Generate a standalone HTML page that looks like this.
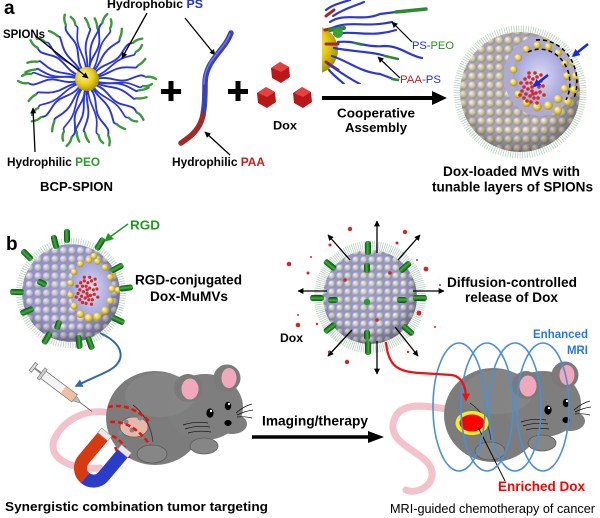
<!DOCTYPE html>
<html><head><meta charset="utf-8">
<style>
html,body{margin:0;padding:0;background:#fff;overflow:hidden;}
svg{display:block;}
text{font-family:"Liberation Sans",Arial,sans-serif;}
.b{font-weight:bold;}
</style></head><body>
<svg width="600" height="518" viewBox="0 0 600 518" xmlns="http://www.w3.org/2000/svg" xmlns:xlink="http://www.w3.org/1999/xlink">
<defs>
  <radialGradient id="beadA" cx="0.45" cy="0.45" r="0.6" fx="0.32" fy="0.3">
    <stop offset="0" stop-color="#fbf8ec"/><stop offset="0.55" stop-color="#cdc3a8"/><stop offset="1" stop-color="#8c846e"/>
  </radialGradient>
  <radialGradient id="beadB" cx="0.45" cy="0.45" r="0.6" fx="0.32" fy="0.3">
    <stop offset="0" stop-color="#f6f4fa"/><stop offset="0.55" stop-color="#c6c2d2"/><stop offset="1" stop-color="#84809a"/>
  </radialGradient>
  <radialGradient id="beadC" cx="0.45" cy="0.45" r="0.6" fx="0.32" fy="0.3">
    <stop offset="0" stop-color="#f8f8f8"/><stop offset="0.55" stop-color="#c6c6c8"/><stop offset="1" stop-color="#7e7e86"/>
  </radialGradient>
  <radialGradient id="beadY" cx="0.45" cy="0.45" r="0.6" fx="0.32" fy="0.3">
    <stop offset="0" stop-color="#fffbd0"/><stop offset="0.55" stop-color="#e6cc48"/><stop offset="1" stop-color="#9c8414"/>
  </radialGradient>
  <radialGradient id="yel" cx="0.45" cy="0.45" r="0.6" fx="0.35" fy="0.3">
    <stop offset="0" stop-color="#fff8a0"/><stop offset="0.6" stop-color="#e8cc18"/><stop offset="1" stop-color="#a08800"/>
  </radialGradient>
  <pattern id="pA" width="9" height="9" patternUnits="userSpaceOnUse">
    <rect width="9" height="9" fill="#a8a4c4"/><circle cx="4.5" cy="4.5" r="4.3" fill="url(#beadA)"/>
  </pattern>
  <pattern id="pB" width="8.5" height="8.5" patternUnits="userSpaceOnUse">
    <rect width="8.5" height="8.5" fill="#9494d4"/><circle cx="4.25" cy="4.25" r="4" fill="url(#beadB)"/>
  </pattern>
  <pattern id="pC" width="8" height="8" patternUnits="userSpaceOnUse">
    <rect width="8" height="8" fill="#9898d8"/><circle cx="4" cy="4" r="3.8" fill="url(#beadC)"/>
  </pattern>
  <radialGradient id="shade" cx="0.45" cy="0.42" r="0.58">
    <stop offset="0" stop-color="#fff" stop-opacity="0.15"/>
    <stop offset="0.7" stop-color="#000" stop-opacity="0"/>
    <stop offset="1" stop-color="#000" stop-opacity="0.3"/>
  </radialGradient>
  <radialGradient id="inner" cx="0.5" cy="0.5" r="0.5">
    <stop offset="0" stop-color="#dcdcf2"/><stop offset="1" stop-color="#a0a0dc"/>
  </radialGradient>
  <linearGradient id="cyl" x1="0" x2="1" y1="0" y2="0">
    <stop offset="0" stop-color="#0e5a0e"/><stop offset="0.45" stop-color="#3cb03c"/><stop offset="1" stop-color="#0c4a0c"/>
  </linearGradient>
  <marker id="ah" viewBox="0 0 10 10" refX="9" refY="5" markerWidth="6" markerHeight="6" orient="auto" markerUnits="userSpaceOnUse">
    <path d="M0,0 L10,5 L0,10 z" fill="#000"/>
  </marker>
  <marker id="ahB" viewBox="0 0 10 10" refX="8" refY="5" markerWidth="8" markerHeight="8" orient="auto" markerUnits="userSpaceOnUse">
    <path d="M0,0 L10,5 L0,10 z" fill="#2f6aa6"/>
  </marker>
  <marker id="ahR" viewBox="0 0 10 10" refX="8" refY="5" markerWidth="8" markerHeight="8" orient="auto" markerUnits="userSpaceOnUse">
    <path d="M0,0 L10,5 L0,10 z" fill="#f01010"/>
  </marker>
  <marker id="ahU" viewBox="0 0 10 10" refX="8" refY="5" markerWidth="8" markerHeight="8" orient="auto" markerUnits="userSpaceOnUse">
    <path d="M0,0 L10,5 L0,10 z" fill="#1a28d8"/>
  </marker>

  <g id="armA" fill="none" stroke-linecap="round">
    <path d="M97,79 C110,75 118,84 130,79 S142,75 146,77" stroke="#2c36d6" stroke-width="1.9"/>
    <path d="M146,77 Q151,76 156,79" stroke="#3c9a3c" stroke-width="2.4"/>
    <path d="M97,82 C108,86 120,80 131,84 S139,88 143,86" stroke="#2c36d6" stroke-width="1.7"/>
    <path d="M143,86 Q148,87 152,84" stroke="#3c9a3c" stroke-width="2.4"/>
  </g>
  <g id="armB" fill="none" stroke-linecap="round">
    <path d="M97,80 C108,82 116,76 128,80 S136,84 140,82" stroke="#2c36d6" stroke-width="1.9"/>
    <path d="M140,82 Q145,81 149,78" stroke="#3c9a3c" stroke-width="2.4"/>
  </g>

  <g id="dots" fill="#d42a2a">
    <circle cx="-7" cy="-7" r="1.8"/><circle cx="-3" cy="-9" r="1.8"/><circle cx="1" cy="-7" r="1.8"/><circle cx="5" cy="-9" r="1.8"/>
    <circle cx="9" cy="-5" r="1.8"/><circle cx="-5" cy="-3" r="1.8"/><circle cx="-1" cy="-3" r="1.8"/><circle cx="3" cy="-1" r="1.8"/>
    <circle cx="7" cy="1" r="1.8"/><circle cx="-8" cy="1" r="1.8"/><circle cx="-4" cy="3" r="1.8"/><circle cx="0" cy="5" r="1.8"/>
    <circle cx="4" cy="7" r="1.8"/><circle cx="8" cy="6" r="1.8"/><circle cx="-6" cy="8" r="1.8"/><circle cx="-2" cy="10" r="1.8"/>
    <circle cx="2" cy="12" r="1.8"/><circle cx="-10" cy="5" r="1.8"/><circle cx="6" cy="12" r="1.8"/><circle cx="11" cy="0" r="1.8"/>
    <circle cx="-11" cy="-3" r="1.8"/><circle cx="-3" cy="-13" r="1.8"/><circle cx="3" cy="-13" r="1.8"/><circle cx="-8" cy="12" r="1.8"/>
    <circle cx="-1" cy="16" r="1.8"/><circle cx="-5" cy="15" r="1.8"/><circle cx="5" cy="17" r="1.8"/><circle cx="12" cy="9" r="1.8"/>
    <circle cx="-12" cy="9" r="1.8"/><circle cx="0" cy="1" r="1.8"/><circle cx="1" cy="8" r="1.8"/><circle cx="9" cy="-11" r="1.8"/>
  </g>

  <g id="mouse">
    <ellipse cx="155" cy="418" rx="49" ry="47" fill="#7c7c7c"/>
    <ellipse cx="205" cy="407" rx="38" ry="33" fill="#7e7e7e"/>
    <ellipse cx="232" cy="424" rx="15" ry="10" fill="#7e7e7e"/>
    <ellipse cx="160" cy="395" rx="35" ry="22" fill="#8c8c8c" opacity="0.5"/>
    <circle cx="188" cy="388" r="14" fill="#7a7a7a"/>
    <ellipse cx="190" cy="389" rx="8.5" ry="10.5" fill="#f2a8bc"/>
    <circle cx="227" cy="378" r="13.5" fill="#7a7a7a"/>
    <ellipse cx="229" cy="378" rx="7.5" ry="10" fill="#f2a8bc"/>
    <ellipse cx="152" cy="454" rx="15" ry="9" fill="#868686" stroke="#5c5c5c" stroke-width="0.8"/>
    <ellipse cx="204" cy="446" rx="14" ry="8" fill="#868686" stroke="#5c5c5c" stroke-width="0.8"/>
    <ellipse cx="210" cy="413" rx="3.6" ry="4.6" fill="#000"/>
    <circle cx="211" cy="411" r="1.2" fill="#fff"/>
    <ellipse cx="228" cy="406" rx="3.2" ry="4.2" fill="#000"/>
    <circle cx="229" cy="404" r="1.1" fill="#fff"/>
    <ellipse cx="228" cy="423" rx="3.6" ry="3" fill="#000"/>
    <g stroke="#111" stroke-width="0.7" fill="none">
      <path d="M236,413 Q244,406 252,404"/><path d="M237,415 Q245,411 253,410"/><path d="M237,417 Q245,416 252,418"/>
      <path d="M183,425 Q195,421 208,423"/><path d="M185,429 Q197,425 210,427"/><path d="M188,433 Q199,430 211,432"/>
    </g>
  </g>
</defs>

<!-- ================= PANEL a ================= -->
<text x="4" y="14" class="b" font-size="19">a</text>

<use href="#armA" transform="rotate(0 87 80)"/>
<use href="#armB" transform="rotate(18 87 80)"/>
<use href="#armA" transform="rotate(36 87 80)"/>
<use href="#armB" transform="rotate(54 87 80)"/>
<use href="#armA" transform="rotate(72 87 80)"/>
<use href="#armB" transform="rotate(90 87 80)"/>
<use href="#armA" transform="rotate(108 87 80)"/>
<use href="#armB" transform="rotate(126 87 80)"/>
<use href="#armA" transform="rotate(144 87 80)"/>
<use href="#armB" transform="rotate(162 87 80)"/>
<use href="#armA" transform="rotate(180 87 80)"/>
<use href="#armB" transform="rotate(198 87 80)"/>
<use href="#armA" transform="rotate(216 87 80)"/>
<use href="#armB" transform="rotate(234 87 80)"/>
<use href="#armA" transform="rotate(252 87 80)"/>
<use href="#armB" transform="rotate(270 87 80)"/>
<use href="#armA" transform="rotate(288 87 80)"/>
<use href="#armB" transform="rotate(306 87 80)"/>
<use href="#armA" transform="rotate(324 87 80)"/>
<use href="#armB" transform="rotate(342 87 80)"/>
<use href="#armB" transform="rotate(9 87 80)"/>
<use href="#armB" transform="rotate(99 87 80)"/>
<use href="#armB" transform="rotate(189 87 80)"/>
<use href="#armB" transform="rotate(279 87 80)"/>
<circle cx="87" cy="79" r="12" fill="url(#yel)"/>

<text x="107" y="8" class="b" font-size="11.5" textLength="96" lengthAdjust="spacingAndGlyphs">Hydrophobic <tspan fill="#2030d0">PS</tspan></text>
<text x="3" y="38" class="b" font-size="11.5" textLength="42" lengthAdjust="spacingAndGlyphs">SPIONs</text>
<text x="7" y="166" class="b" font-size="11.5" textLength="93" lengthAdjust="spacingAndGlyphs">Hydrophilic <tspan fill="#2a9a2a">PEO</tspan></text>
<text x="40" y="191" class="b" font-size="13" textLength="73" lengthAdjust="spacingAndGlyphs">BCP-SPION</text>
<text x="172" y="166" class="b" font-size="11.5" textLength="93" lengthAdjust="spacingAndGlyphs">Hydrophilic <tspan fill="#c02020">PAA</tspan></text>
<g stroke="#000" stroke-width="1.3" fill="none">
  <line x1="37" y1="37" x2="88" y2="78" marker-end="url(#ah)"/>
  <line x1="147" y1="13" x2="122" y2="58" marker-end="url(#ah)"/>
  <line x1="185" y1="18" x2="215" y2="55" marker-end="url(#ah)"/>
  <line x1="35" y1="152" x2="33" y2="108" marker-end="url(#ah)"/>
  <line x1="230" y1="155" x2="205" y2="132" marker-end="url(#ah)"/>
</g>

<g fill="#000">
  <rect x="161" y="89" width="20" height="5"/><rect x="168.5" y="81" width="5" height="20"/>
  <rect x="228" y="89" width="20" height="5"/><rect x="235.5" y="81" width="5" height="20"/>
</g>

<path d="M231,33 C224,52 205,60 205,84 S204,106 203,115" fill="none" stroke="#3a42b6" stroke-width="5.5" stroke-linecap="round"/>
<path d="M230,34 C223,52 204,60 204,84" fill="none" stroke="#7078e0" stroke-width="1.5" stroke-linecap="round"/>
<path d="M203,115 C200,130 190,137 181,143" fill="none" stroke="#a42828" stroke-width="5.5" stroke-linecap="round"/>

<g>
  <polygon points="280,62 289,67 290,77 281,83 272,78 271,68" fill="#b81818"/>
  <polygon points="280,62 289,67 281,72 272,68" fill="#e84040"/>
  <polygon points="266,87 275,92 276,102 267,108 258,103 257,93" fill="#b81818"/>
  <polygon points="266,87 275,92 267,97 258,93" fill="#e84040"/>
  <polygon points="302,87 311,92 312,102 303,108 294,103 293,93" fill="#b81818"/>
  <polygon points="302,87 311,92 303,97 294,93" fill="#e84040"/>
</g>
<text x="273" y="129.5" class="b" font-size="11.5" textLength="24" lengthAdjust="spacingAndGlyphs">Dox</text>

<clipPath id="ic"><rect x="322" y="0" width="110" height="84"/></clipPath>
<g clip-path="url(#ic)">
  <circle cx="314" cy="50" r="24" fill="url(#yel)"/>
  <g fill="none" stroke-linecap="round" stroke-width="2.2">
    <path d="M326,16 L334,10" stroke="#a02a2a" stroke-width="3"/>
    <path d="M326,44 L338,44" stroke="#a02a2a" stroke-width="3"/>
    <path d="M326,62 L338,70" stroke="#a02a2a" stroke-width="3"/>
    <path d="M325,30 L334,28" stroke="#a02a2a" stroke-width="3"/>
    <path d="M330,22 C345,12 362,22 380,14 L396,12" stroke="#2c36d6"/>
    <path d="M332,28 C350,20 365,28 392,22" stroke="#2c36d6"/>
    <path d="M334,34 C355,30 370,38 396,30" stroke="#2c36d6"/>
    <path d="M338,42 C355,40 365,48 385,46 C400,46 410,56 422,58" stroke="#2c36d6"/>
    <path d="M334,48 C355,52 375,52 385,56" stroke="#2c36d6"/>
    <path d="M332,56 C350,62 360,72 380,74 L396,80" stroke="#2c36d6"/>
    <path d="M328,64 C340,72 348,78 360,84" stroke="#2c36d6"/>
    <path d="M329,70 C334,76 340,80 344,84" stroke="#2c36d6"/>
    <path d="M326,10 C332,5 340,3 350,0" stroke="#2c36d6"/>
    <path d="M333,16 C345,8 355,6 364,2" stroke="#2c36d6"/>
    <path d="M396,12 L426,9" stroke="#2e8a2e" stroke-width="3.5"/>
    <path d="M385,56 L398,59" stroke="#2e8a2e" stroke-width="2.5"/>
    <path d="M354,43 L362,45" stroke="#2e8a2e" stroke-width="2"/>
    <path d="M392,79 L398,80" stroke="#2e8a2e" stroke-width="2.5"/>
    <path d="M330,30 L344,28" stroke="#2e8a2e" stroke-width="4"/>
  </g>
  <circle cx="338" cy="33" r="5" fill="#3aa03a"/>
</g>
<g stroke="#000" stroke-width="1.2" fill="none">
  <line x1="412" y1="42" x2="392" y2="22" marker-end="url(#ah)"/>
  <line x1="400" y1="78" x2="378" y2="57" marker-end="url(#ah)"/>
</g>
<text x="412" y="49" font-size="11" textLength="42" lengthAdjust="spacingAndGlyphs"><tspan fill="#2030d0">PS-</tspan><tspan fill="#2a8a2a">PEO</tspan></text>
<text x="400" y="83" font-size="11" textLength="41" lengthAdjust="spacingAndGlyphs"><tspan fill="#c02020">PAA</tspan><tspan fill="#2030d0">-PS</tspan></text>

<line x1="322" y1="98" x2="434" y2="98" stroke="#000" stroke-width="4"/>
<polygon points="432,91 447,98 432,105" fill="#000"/>
<text x="337" y="117.5" class="b" font-size="13" textLength="78" lengthAdjust="spacingAndGlyphs">Cooperative</text>
<text x="345" y="132" class="b" font-size="13" textLength="62" lengthAdjust="spacingAndGlyphs">Assembly</text>

<circle cx="520" cy="92" r="63" fill="none" stroke="#5f9a6a" stroke-width="7" stroke-opacity="0.45" stroke-dasharray="0.8 1.6"/>
<clipPath id="cA"><circle cx="520" cy="92" r="60"/></clipPath>
<g clip-path="url(#cA)">
  <circle cx="520" cy="92" r="60" fill="url(#pA)"/>
  <circle cx="520" cy="92" r="60" fill="url(#shade)"/>
  <ellipse cx="540" cy="76" rx="36" ry="40" fill="#aeaad0"/>
  <ellipse cx="540" cy="76" rx="27" ry="31" fill="url(#inner)"/>
  <g fill="url(#beadY)">
    <circle cx="546.3" cy="36.6" r="4.2"/><circle cx="558" cy="41.4" r="4.2"/><circle cx="567.6" cy="50.3" r="4.2"/>
    <circle cx="573.8" cy="62.3" r="4.2"/><circle cx="576" cy="76" r="4.2"/><circle cx="573.8" cy="89.7" r="4.2"/>
    <circle cx="567.6" cy="101.7" r="4.2"/><circle cx="558" cy="110.6" r="4.2"/>
    <circle cx="567" cy="76" r="4"/><circle cx="564.7" cy="88.6" r="4"/><circle cx="558.1" cy="99" r="4.3"/>
    <circle cx="548.3" cy="105.5" r="4.5"/><circle cx="537.2" cy="106.8" r="4.5"/><circle cx="526.5" cy="102.8" r="4.3"/>
    <circle cx="518.2" cy="94.2" r="4"/><circle cx="513.6" cy="82.4" r="3.8"/><circle cx="513.6" cy="69.6" r="3.8"/>
    <circle cx="518.2" cy="57.8" r="3.8"/><circle cx="526.5" cy="49.2" r="3.8"/><circle cx="537.2" cy="45.2" r="3.8"/>
    <circle cx="548.3" cy="46.5" r="3.8"/><circle cx="558.1" cy="53" r="3.8"/><circle cx="564.7" cy="63.4" r="3.8"/>
  </g>
  <use href="#dots" transform="translate(532,86)"/>
</g>
<path d="M536,40 A38,42 0 0 1 574,98" fill="none" stroke="#000" stroke-width="1.5" stroke-dasharray="4 3"/>
<path d="M528,52 A30,34 0 0 1 566,100" fill="none" stroke="#000" stroke-width="1.5" stroke-dasharray="4 3"/>
<line x1="588" y1="44" x2="573" y2="56" stroke="#1a28d8" stroke-width="2.5" marker-end="url(#ahU)"/>
<line x1="548" y1="75" x2="534" y2="86" stroke="#1a28d8" stroke-width="2.5" marker-end="url(#ahU)"/>
<text x="443" y="176" class="b" font-size="13.5" textLength="137" lengthAdjust="spacingAndGlyphs">Dox-loaded MVs with</text>
<text x="432" y="191.5" class="b" font-size="13.5" textLength="161" lengthAdjust="spacingAndGlyphs">tunable layers of SPIONs</text>

<!-- ================= PANEL b ================= -->
<text x="6" y="250" class="b" font-size="19">b</text>

<circle cx="71" cy="293" r="52" fill="none" stroke="#5f9a6a" stroke-width="6" stroke-opacity="0.45" stroke-dasharray="0.8 1.6"/>
<clipPath id="cB"><circle cx="71" cy="293" r="49"/></clipPath>
<g clip-path="url(#cB)">
  <circle cx="71" cy="293" r="49" fill="url(#pB)"/>
  <circle cx="71" cy="293" r="49" fill="url(#shade)"/>
  <ellipse cx="91" cy="289" rx="21" ry="30" fill="url(#inner)"/>
  <g fill="url(#beadY)">
    <circle cx="112" cy="289" r="3.6"/><circle cx="110.2" cy="300.8" r="3.6"/><circle cx="105.1" cy="310.5" r="4"/>
    <circle cx="97.5" cy="316.6" r="4.2"/><circle cx="88.8" cy="317.9" r="4.2"/><circle cx="80.5" cy="314.1" r="4"/>
    <circle cx="74" cy="306" r="3.6"/><circle cx="70.5" cy="295" r="3.3"/><circle cx="70.5" cy="283" r="3.3"/>
    <circle cx="74" cy="272" r="3.3"/><circle cx="80.5" cy="263.9" r="3.4"/><circle cx="88.8" cy="260.1" r="3.4"/>
    <circle cx="97.5" cy="261.4" r="3.4"/><circle cx="105.1" cy="267.5" r="3.4"/><circle cx="110.2" cy="277.2" r="3.4"/>
    <circle cx="94" cy="256" r="3.3"/><circle cx="114" cy="272" r="3.3"/><circle cx="118" cy="290" r="3.3"/>
  </g>
  <use href="#dots" transform="translate(87,289) scale(0.9)"/>
</g>
<g fill="url(#cyl)">
  <rect x="-3" y="-7" width="6" height="14" rx="2.5" transform="translate(67,236) rotate(0)"/>
  <rect x="-3" y="-7" width="6" height="14" rx="2.5" transform="translate(100,244) rotate(32)"/>
  <rect x="-3" y="-7" width="6" height="14" rx="2.5" transform="translate(117,268) rotate(62)"/>
  <rect x="-3" y="-7" width="6" height="14" rx="2.5" transform="translate(126,288) rotate(83)"/>
  <rect x="-3" y="-7" width="6" height="14" rx="2.5" transform="translate(118,320) rotate(115)"/>
  <rect x="-3" y="-7" width="6" height="14" rx="2.5" transform="translate(90,343) rotate(160)"/>
  <rect x="-3" y="-7" width="6" height="14" rx="2.5" transform="translate(79,342) rotate(175)"/>
  <rect x="-3" y="-7" width="6" height="14" rx="2.5" transform="translate(47,338) rotate(210)"/>
  <rect x="-3" y="-7" width="6" height="14" rx="2.5" transform="translate(27,311) rotate(-113)"/>
  <rect x="-3" y="-7" width="6" height="14" rx="2.5" transform="translate(17,292) rotate(-88)"/>
  <rect x="-3" y="-7" width="6" height="14" rx="2.5" transform="translate(27,255) rotate(-45)"/>
  <rect x="-3" y="-7" width="6" height="14" rx="2.5" transform="translate(55,242) rotate(-15)"/>
  <rect x="-3" y="-5" width="6" height="10" rx="2.5" transform="translate(42,283) rotate(-65)"/>
  <rect x="-3" y="-5" width="6" height="10" rx="2.5" transform="translate(58,325) rotate(-160)"/>
</g>
<line x1="128" y1="224" x2="110" y2="237" stroke="#1f9a1f" stroke-width="1.5"/>
<polygon points="104,242 108,233 114,239" fill="#1f9a1f"/>
<text x="130" y="229.5" class="b" font-size="12.5" fill="#1f9a1f" textLength="30" lengthAdjust="spacingAndGlyphs">RGD</text>
<text x="135" y="284.5" class="b" font-size="13.5" textLength="107" lengthAdjust="spacingAndGlyphs">RGD-conjugated</text>
<text x="150" y="301" class="b" font-size="13.5" textLength="78" lengthAdjust="spacingAndGlyphs">Dox-MuMVs</text>

<circle cx="370" cy="297" r="51" fill="none" stroke="#3f7a52" stroke-width="10" stroke-opacity="0.4" stroke-dasharray="0.7 1.3"/>
<clipPath id="cC"><circle cx="370" cy="297" r="47"/></clipPath>
<g clip-path="url(#cC)">
  <circle cx="370" cy="297" r="47" fill="url(#pC)"/>
  <circle cx="370" cy="297" r="47" fill="url(#shade)"/>
</g>
<g stroke="#000" stroke-width="1.3" fill="none">
  <line x1="377" y1="253" x2="377" y2="221" marker-end="url(#ah)"/>
  <line x1="377" y1="341" x2="377" y2="374" marker-end="url(#ah)"/>
  <line x1="327" y1="291" x2="298" y2="291" marker-end="url(#ah)"/>
  <line x1="413" y1="291" x2="444" y2="291" marker-end="url(#ah)"/>
  <line x1="350" y1="260" x2="328" y2="235" marker-end="url(#ah)"/>
  <line x1="398" y1="260" x2="420" y2="235" marker-end="url(#ah)"/>
  <line x1="352" y1="330" x2="328" y2="356" marker-end="url(#ah)"/>
  <line x1="395" y1="327" x2="418" y2="356" marker-end="url(#ah)"/>
</g>
<g fill="url(#cyl)">
  <rect x="-3" y="-7" width="6" height="14" rx="2.5" transform="translate(368,248) rotate(0)"/>
  <rect x="-3" y="-7" width="6" height="14" rx="2.5" transform="translate(330,265) rotate(-51)"/>
  <rect x="-3" y="-7" width="6" height="14" rx="2.5" transform="translate(405,267) rotate(49)"/>
  <rect x="-3" y="-7" width="6" height="14" rx="2.5" transform="translate(317,298) rotate(-90)"/>
  <rect x="-3" y="-7" width="6" height="14" rx="2.5" transform="translate(420,298) rotate(90)"/>
  <rect x="-3" y="-7" width="6" height="14" rx="2.5" transform="translate(330,328) rotate(-128)"/>
  <rect x="-3" y="-7" width="6" height="14" rx="2.5" transform="translate(408,330) rotate(131)"/>
  <rect x="-3" y="-7" width="6" height="14" rx="2.5" transform="translate(368,348) rotate(180)"/>
  <rect x="-3" y="-5" width="6" height="10" rx="2.5" transform="translate(367,268) rotate(0)"/>
  <rect x="-3" y="-5" width="6" height="10" rx="2.5" transform="translate(333,300) rotate(-90)"/>
  <rect x="-3" y="-5" width="6" height="10" rx="2.5" transform="translate(402,300) rotate(90)"/>
  <rect x="-3" y="-5" width="6" height="10" rx="2.5" transform="translate(367,335) rotate(180)"/>
</g>
<circle cx="367" cy="302" r="3.2" fill="#2a9a2a"/>
<g fill="#d42424">
  <circle cx="350" cy="229" r="2.2"/><circle cx="405" cy="232" r="2.2"/><circle cx="330" cy="245" r="1.5"/>
  <circle cx="397" cy="243" r="1.5"/><circle cx="289" cy="264" r="2.3"/><circle cx="308" cy="273" r="1.5"/>
  <circle cx="426" cy="269" r="2.4"/><circle cx="311" cy="257" r="1"/><circle cx="417" cy="260" r="1"/>
  <circle cx="440" cy="285" r="1"/><circle cx="419" cy="313" r="2.4"/><circle cx="298" cy="325" r="2.3"/>
  <circle cx="317" cy="324" r="1.2"/><circle cx="435" cy="327" r="1"/><circle cx="347" cy="362" r="2.2"/>
  <circle cx="329" cy="352" r="1.2"/><circle cx="408" cy="352" r="1.2"/><circle cx="298" cy="315" r="1"/>
  <circle cx="390" cy="273" r="1.8"/><circle cx="377" cy="320" r="1.8"/><circle cx="345" cy="280" r="1.8"/>
</g>
<text x="280" y="342" class="b" font-size="11.5" textLength="23" lengthAdjust="spacingAndGlyphs">Dox</text>
<text x="447" y="287" class="b" font-size="13.5" textLength="130" lengthAdjust="spacingAndGlyphs">Diffusion-controlled</text>
<text x="465" y="302" class="b" font-size="13.5" textLength="93" lengthAdjust="spacingAndGlyphs">release of Dox</text>

<path d="M100,333 C126,345 126,362 108,371 C98,376 88,380 76,386" fill="none" stroke="#2f6aa6" stroke-width="2" marker-end="url(#ahB)"/>

<path d="M110,413 C88,408 64,418 54,440 C48,458 70,470 100,468" fill="none" stroke="#f4c2cc" stroke-width="7" stroke-linecap="round"/>

<use href="#mouse"/>
<path d="M133,405 Q150,418 153,442" fill="none" stroke="#333" stroke-width="0.8"/>
<ellipse cx="134" cy="427" rx="14" ry="10" fill="#e6b8a6" stroke="#555" stroke-width="0.6"/>
<g fill="#7a8a96"><circle cx="126" cy="422" r="2.5"/><circle cx="140" cy="418" r="2.5"/><circle cx="132" cy="430" r="2.5"/><circle cx="120" cy="433" r="2"/></g>
<g fill="none" stroke="#f01010" stroke-width="2.6" stroke-dasharray="5 3">
  <path d="M108,407 Q130,402 150,422"/>
  <path d="M110,422 Q132,420 150,445"/>
  <path d="M112,436 Q124,440 130,460"/>
  <path d="M115,447 Q118,452 120,460"/>
</g>

<g transform="translate(33,367) rotate(37)">
  <line x1="0" y1="0" x2="10" y2="0" stroke="#888" stroke-width="2"/>
  <rect x="-1" y="-5" width="3" height="10" fill="#ddd" stroke="#777" stroke-width="0.7"/>
  <rect x="12" y="-4.5" width="40" height="9" fill="#f4f4f4" stroke="#777" stroke-width="0.8"/>
  <rect x="38" y="-4" width="14" height="8" fill="#f0c0a0"/>
  <rect x="10" y="-6.5" width="3" height="13" fill="#ccc" stroke="#777" stroke-width="0.6"/>
  <polygon points="52,-3 58,-1 58,1 52,3" fill="#bbb" stroke="#777" stroke-width="0.5"/>
  <line x1="58" y1="0" x2="74" y2="0" stroke="#555" stroke-width="0.8"/>
</g>

<g transform="translate(96,465) rotate(40)">
  <path d="M-13,-26 L-13,4 A13,13 0 0 0 0,17" fill="none" stroke="#d63a10" stroke-width="13"/>
  <path d="M0,17 A13,13 0 0 0 13,4 L13,-26" fill="none" stroke="#2a3cc8" stroke-width="13"/>
  <rect x="-19.5" y="-32" width="13" height="6" fill="#e8e8e8" stroke="#999" stroke-width="0.6"/>
  <rect x="6.5" y="-32" width="13" height="6" fill="#e8e8e8" stroke="#999" stroke-width="0.6"/>
</g>

<line x1="252" y1="437" x2="370" y2="437" stroke="#000" stroke-width="3.5"/>
<polygon points="368,431 384,437 368,443" fill="#000"/>
<text x="262" y="425.5" class="b" font-size="13.5" textLength="106" lengthAdjust="spacingAndGlyphs">Imaging/therapy</text>
<text x="5" y="511" class="b" font-size="12.5" textLength="263" lengthAdjust="spacingAndGlyphs">Synergistic combination tumor targeting</text>

<path d="M452,410 C420,404 396,402 393,425 C391,445 424,452 431,468 C437,484 418,495 406,490" fill="none" stroke="#f4c2cc" stroke-width="7" stroke-linecap="round"/>

<use href="#mouse" transform="translate(338,-3)"/>
<path d="M470,403 Q488,415 491,440" fill="none" stroke="#333" stroke-width="0.8"/>
<ellipse cx="472" cy="423" rx="16.5" ry="12" fill="#f0f020"/>
<ellipse cx="472" cy="423" rx="12.5" ry="8.5" fill="#ff0000"/>
<line x1="478" y1="427" x2="505" y2="481" stroke="#000" stroke-width="0.9"/>

<g fill="none" stroke="#4a90d6" stroke-width="1.6">
  <ellipse cx="459" cy="407" rx="26" ry="64"/>
  <ellipse cx="487" cy="407" rx="26" ry="64"/>
  <ellipse cx="515" cy="407" rx="26" ry="64"/>
  <ellipse cx="543" cy="407" rx="26" ry="64"/>
</g>

<path d="M386,342 C388,366 398,372 420,373 L452,375 C463,377 466,388 466,400" fill="none" stroke="#f01010" stroke-width="2.2" marker-end="url(#ahR)"/>

<text x="533" y="338" class="b" font-size="11.5" fill="#2a78d6" textLength="55" lengthAdjust="spacingAndGlyphs">Enhanced</text>
<text x="567" y="354" class="b" font-size="11.5" fill="#2a78d6" textLength="21" lengthAdjust="spacingAndGlyphs">MRI</text>
<text x="498" y="491" class="b" font-size="13.5" fill="#ff0000" textLength="87" lengthAdjust="spacingAndGlyphs">Enriched Dox</text>
<text x="390" y="513" font-size="12.5" textLength="205" lengthAdjust="spacingAndGlyphs">MRI-guided chemotherapy of cancer</text>
</svg>
</body></html>
